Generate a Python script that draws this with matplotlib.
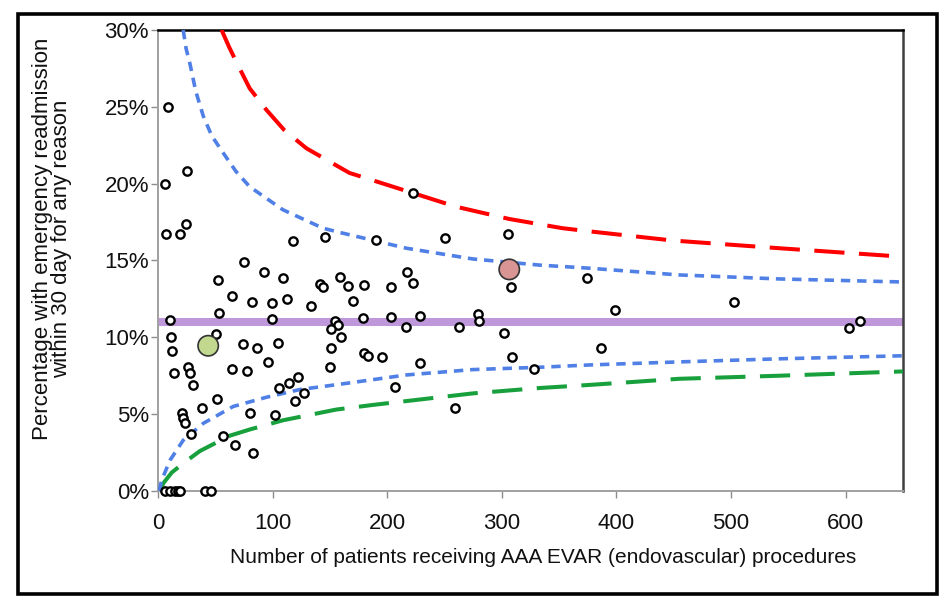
import numpy as np
import matplotlib.pyplot as plt
from matplotlib.patches import Rectangle

plt.rcParams['font.family'] = ['Liberation Sans Narrow', 'Liberation Sans', 'DejaVu Sans']

# Funnel plot: 30 day emergency readmission after AAA EVAR, by hospital volume

# hospitals: number of EVAR patients and readmission percentage
n_patients = [9.0, 25.0, 6.1, 7.0, 19.2, 24.4, 117.5, 145.4, 75.2, 92.3,
              52.5, 109.0, 141.0, 143.7, 158.5, 165.5, 179.6, 203.5, 217.4, 222.3,
              222.3, 190.4, 250.0, 305.7, 308.0, 374.7, 64.2, 82.1, 99.5, 112.6,
              133.8, 170.3, 53.1, 99.5, 10.5, 154.5, 157.5, 151.2, 178.8, 203.5,
              228.2, 216.6, 262.4, 279.0, 280.4, 302.2, 160.0, 11.0, 50.3, 12.5,
              74.3, 86.5, 104.5, 151.2, 96.0, 149.8, 26.4, 27.9, 13.9, 64.2,
              77.8, 30.2, 105.6, 114.4, 122.2, 127.1, 119.9, 51.1, 38.0, 21.2,
              22.0, 23.5, 80.1, 101.9, 28.5, 56.9, 67.0, 83.0, 179.4, 183.1,
              195.8, 228.2, 308.9, 328.3, 206.4, 398.8, 502.5, 386.4, 602.6, 612.8,
              259.5, 6.1, 10.5, 14.8, 17.7, 19.2, 41.0, 46.0]
readmit_pct = [25.0, 20.8, 20.0, 16.7, 16.7, 17.4, 16.25, 16.5, 14.9, 14.27,
               13.75, 13.88, 13.5, 13.28, 13.95, 13.34, 13.4, 13.3, 14.27, 13.51,
               19.37, 16.33, 16.49, 16.72, 13.3, 13.84, 12.7, 12.3, 12.26, 12.47,
               12.04, 12.34, 11.56, 11.22, 11.13, 11.07, 10.8, 10.56, 11.24, 11.32,
               11.41, 10.65, 10.69, 11.5, 11.06, 10.26, 10.04, 10.0, 10.2, 9.1,
               9.57, 9.28, 9.6, 9.28, 8.41, 8.05, 8.05, 7.66, 7.7, 7.94,
               7.83, 6.9, 6.68, 7.05, 7.44, 6.36, 5.86, 5.99, 5.42, 5.05,
               4.73, 4.45, 5.05, 4.95, 3.69, 3.58, 2.99, 2.45, 8.96, 8.78,
               8.72, 8.35, 8.74, 7.92, 6.79, 11.78, 12.32, 9.28, 10.58, 11.08,
               5.4, 0.0, 0.0, 0.0, 0.0, 0.0, 0.0, 0.0]

# two highlighted hospitals
high_n = [306.5, 43.8]
high_pct = [14.42, 9.45]
high_colors = ['#d99494', '#c3d88f']

# national average
mean_pct = 11.0

# control limits (upper / lower)
red_n = [55.5, 62.0, 68.5, 80.0, 94.6, 110.0, 129.5, 167.0, 222.0, 260.0,
         306.5, 353.0, 376.0, 449.0, 541.7, 639.0, 650.0]
red_pct = [30.0, 28.9, 27.9, 26.2, 24.8, 23.5, 22.3, 20.7, 19.4, 18.5,
           17.7, 17.1, 16.9, 16.3, 15.8, 15.3, 15.25]
blue_up_n = [22.0, 24.5, 27.9, 33.0, 39.5, 47.0, 56.9, 68.0, 80.0, 109.0,
             144.0, 160.0, 216.6, 274.6, 332.7, 376.0, 454.6, 541.7, 650.0]
blue_up_pct = [30.0, 28.8, 27.8, 26.0, 24.4, 23.1, 22.0, 20.8, 19.8, 18.3,
               17.1, 16.8, 15.8, 15.1, 14.7, 14.5, 14.06, 13.8, 13.6]
blue_lo_n = [1.0, 3.2, 10.5, 22.0, 39.5, 65.6, 94.6, 123.7, 164.0, 216.6,
             274.6, 332.7, 376.0, 454.6, 541.7, 650.0]
blue_lo_pct = [0.0, 0.7, 2.0, 3.3, 4.4, 5.5, 6.1, 6.6, 7.0, 7.55,
               7.9, 8.05, 8.2, 8.4, 8.6, 8.8]
green_n = [2.0, 4.6, 12.0, 22.0, 36.6, 62.7, 80.0, 109.0, 155.6, 187.5,
           274.6, 332.7, 376.0, 454.6, 541.7, 650.0]
green_pct = [0.0, 0.5, 1.2, 1.8, 2.6, 3.6, 4.0, 4.6, 5.3, 5.6,
             6.35, 6.7, 6.9, 7.3, 7.5, 7.78]

fig = plt.figure(figsize=(9.46, 5.96), dpi=100)
ax = fig.add_axes([0.1670, 0.1762, 0.7875, 0.7735])

# outer frame round the whole chart
fig.patches.append(Rectangle((0.019, 0.003), 0.972, 0.974, transform=fig.transFigure,
                             fill=False, edgecolor='black', linewidth=2.6))

ax.axhline(mean_pct, color='#bf98dc', lw=5.8, zorder=2)

ax.plot(red_n, red_pct, color='#ff0000', lw=2.9, dashes=(7.5, 3.6), zorder=3)
ax.plot(green_n, green_pct, color='#17a03b', lw=2.9, dashes=(7.5, 3.6), zorder=3)
ax.plot(blue_up_n, blue_up_pct, color='#5080e6', lw=2.6, dashes=(2.6, 1.9), zorder=3)
ax.plot(blue_lo_n, blue_lo_pct, color='#5080e6', lw=2.6, dashes=(2.6, 1.9), zorder=3)

ax.scatter(n_patients, readmit_pct, s=36, facecolors='white', edgecolors='black',
           linewidths=1.7, zorder=5, clip_on=False)
ax.scatter(high_n, high_pct, s=215, c=high_colors, edgecolors='#333333',
           linewidths=1.2, zorder=6)

ax.set_xlim(0, 650)
ax.set_ylim(0, 30)
ax.set_xticks(np.arange(0, 700, 100))
ax.set_yticks(np.arange(0, 31, 5))
ax.set_yticklabels(['%d%%' % v for v in range(0, 31, 5)])

ax.tick_params(axis='both', colors='#8c8c8c', length=5, width=1.0,
               labelcolor='#111111', labelsize=16)
ax.tick_params(axis='y', pad=1.5)
ax.tick_params(axis='x', pad=11)

ax.spines['left'].set_color('#a0a0a0')
ax.spines['bottom'].set_color('#a0a0a0')
ax.spines['left'].set_linewidth(1.4)
ax.spines['bottom'].set_linewidth(1.4)
ax.spines['top'].set_color('#000000')
ax.spines['top'].set_linewidth(1.8)
ax.spines['right'].set_color('#404040')
ax.spines['right'].set_linewidth(1.8)

ax.set_xlabel('Number of patients receiving AAA EVAR (endovascular) procedures',
              fontsize=15, color='#111111')
ax.xaxis.set_label_coords(0.517, -0.124)
ax.set_ylabel('Percentage with emergency readmission\nwithin 30 day for any reason',
              fontsize=16, color='#111111', linespacing=0.9)
ax.yaxis.set_label_coords(-0.115, 0.547)

fig.savefig('out.png', dpi=100)
